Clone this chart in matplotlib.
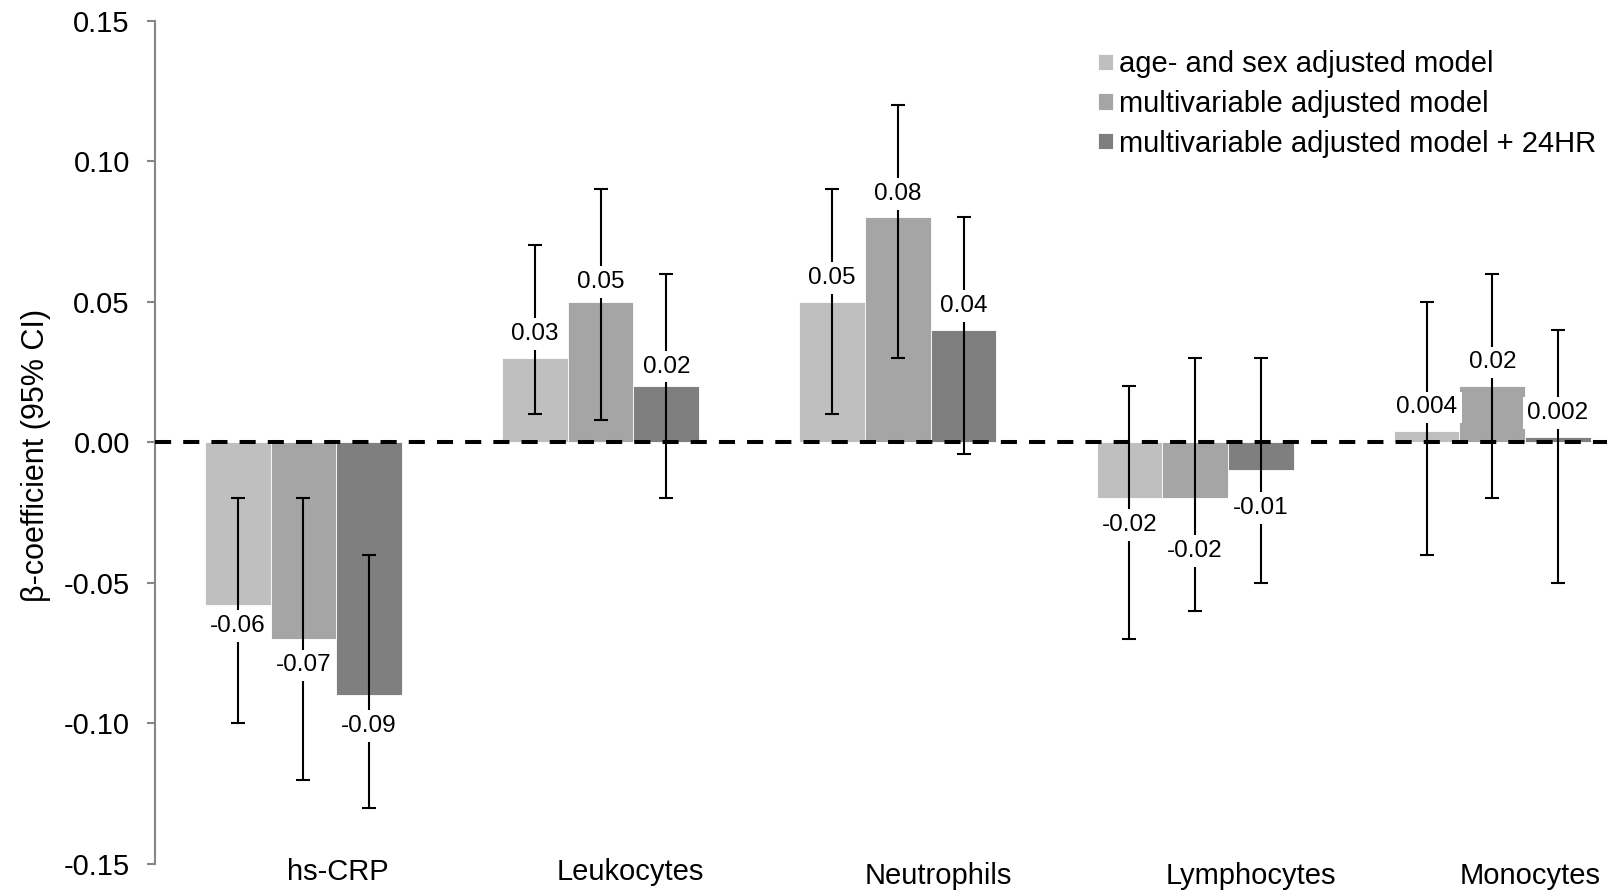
import matplotlib

matplotlib.use("Agg")
import matplotlib.pyplot as plt
import numpy as np

plt.rcParams["font.family"] = ["Liberation Sans", "DejaVu Sans"]

markers = ["hs-CRP", "Leukocytes", "Neutrophils", "Lymphocytes", "Monocytes"]
models = [
    "age- and sex adjusted model",
    "multivariable adjusted model",
    "multivariable adjusted model + 24HR",
]
colors = ["#bfbfbf", "#a5a5a5", "#7f7f7f"]

# beta coefficients per model (rows) and marker (columns)
beta = [
    [-0.058, 0.03, 0.05, -0.02, 0.004],
    [-0.07, 0.05, 0.08, -0.02, 0.02],
    [-0.09, 0.02, 0.04, -0.01, 0.002],
]
ci_low = [
    [-0.10, 0.01, 0.01, -0.07, -0.04],
    [-0.12, 0.008, 0.03, -0.06, -0.02],
    [-0.13, -0.02, -0.004, -0.05, -0.05],
]
ci_high = [
    [-0.02, 0.07, 0.09, 0.02, 0.05],
    [-0.02, 0.09, 0.12, 0.03, 0.06],
    [-0.04, 0.06, 0.08, 0.03, 0.04],
]
beta_labels = [
    ["-0.06", "0.03", "0.05", "-0.02", "0.004"],
    ["-0.07", "0.05", "0.08", "-0.02", "0.02"],
    ["-0.09", "0.02", "0.04", "-0.01", "0.002"],
]

# label distance from bar end (points) and category label shifts (layout only)
label_dy = [
    [15, 17, 17, 19, 17],
    [19, 14, 17, 38, 17],
    [22, 14, 17, 27, 17],
]
cat_dx = [0.116, 0.099, 0.135, 0.188, 0.127]
cat_dy = [-0.0095, -0.0095, -0.014, -0.014, -0.014]

fig = plt.figure(figsize=(16.07, 8.96), dpi=100)
ax = fig.add_axes([0.0963, 0.0357, 0.9248, 0.9414])

x = np.arange(len(markers))
bw = 0.221
for i, name in enumerate(models):
    xs = x + (i - 1) * bw
    vals = np.array(beta[i])
    lo = vals - np.array(ci_low[i])
    hi = np.array(ci_high[i]) - vals
    ax.bar(xs, vals, width=bw, color=colors[i], edgecolor="white",
           linewidth=0.6, label=name, zorder=2)
    ax.errorbar(xs, vals, yerr=[lo, hi], fmt="none", ecolor="black",
                elinewidth=1.5, capsize=5, capthick=1.5, zorder=4)
    for j, v in enumerate(vals):
        dy = label_dy[i][j] if v >= 0 else -label_dy[i][j]
        ax.annotate(beta_labels[i][j], (xs[j], v), xytext=(0, dy),
                    textcoords="offset points", ha="center", va="center",
                    fontsize=17.5, zorder=5,
                    bbox=dict(boxstyle="square,pad=0.2", fc="white", ec="none"))

ax.axhline(0, color="black", lw=2.9, dashes=(4, 3), zorder=3)

ax.set_xlim(-0.5, 4.5)
ax.set_ylim(-0.15, 0.15)
ax.set_yticks(np.arange(-0.15, 0.151, 0.05))
ax.set_yticklabels([f"{t:.2f}" for t in np.arange(-0.15, 0.151, 0.05)])
ax.set_xticks([])
for s in ["top", "right", "bottom"]:
    ax.spines[s].set_visible(False)
ax.spines["left"].set_color("#868686")
ax.spines["left"].set_linewidth(1.5)
ax.tick_params(axis="y", colors="#868686", labelcolor="black", labelsize=21,
               length=6, width=1.5, pad=12)
ax.set_ylabel("\u03b2-coefficient (95% CI)", fontsize=22)
ax.yaxis.set_label_coords(-0.0695, 0.484)

for j, name in enumerate(markers):
    ax.text(x[j] + cat_dx[j], cat_dy[j], name, transform=ax.get_xaxis_transform(),
            ha="center", va="center", fontsize=21, clip_on=False)

ax.legend(loc="upper left", bbox_to_anchor=(0.6833, 0.944),
          bbox_transform=fig.transFigure, frameon=False, fontsize=21,
          handlelength=0.5, handleheight=0.5, handletextpad=0.22,
          labelspacing=0.4, borderpad=0, borderaxespad=0)

fig.savefig("out.png", dpi=100)
